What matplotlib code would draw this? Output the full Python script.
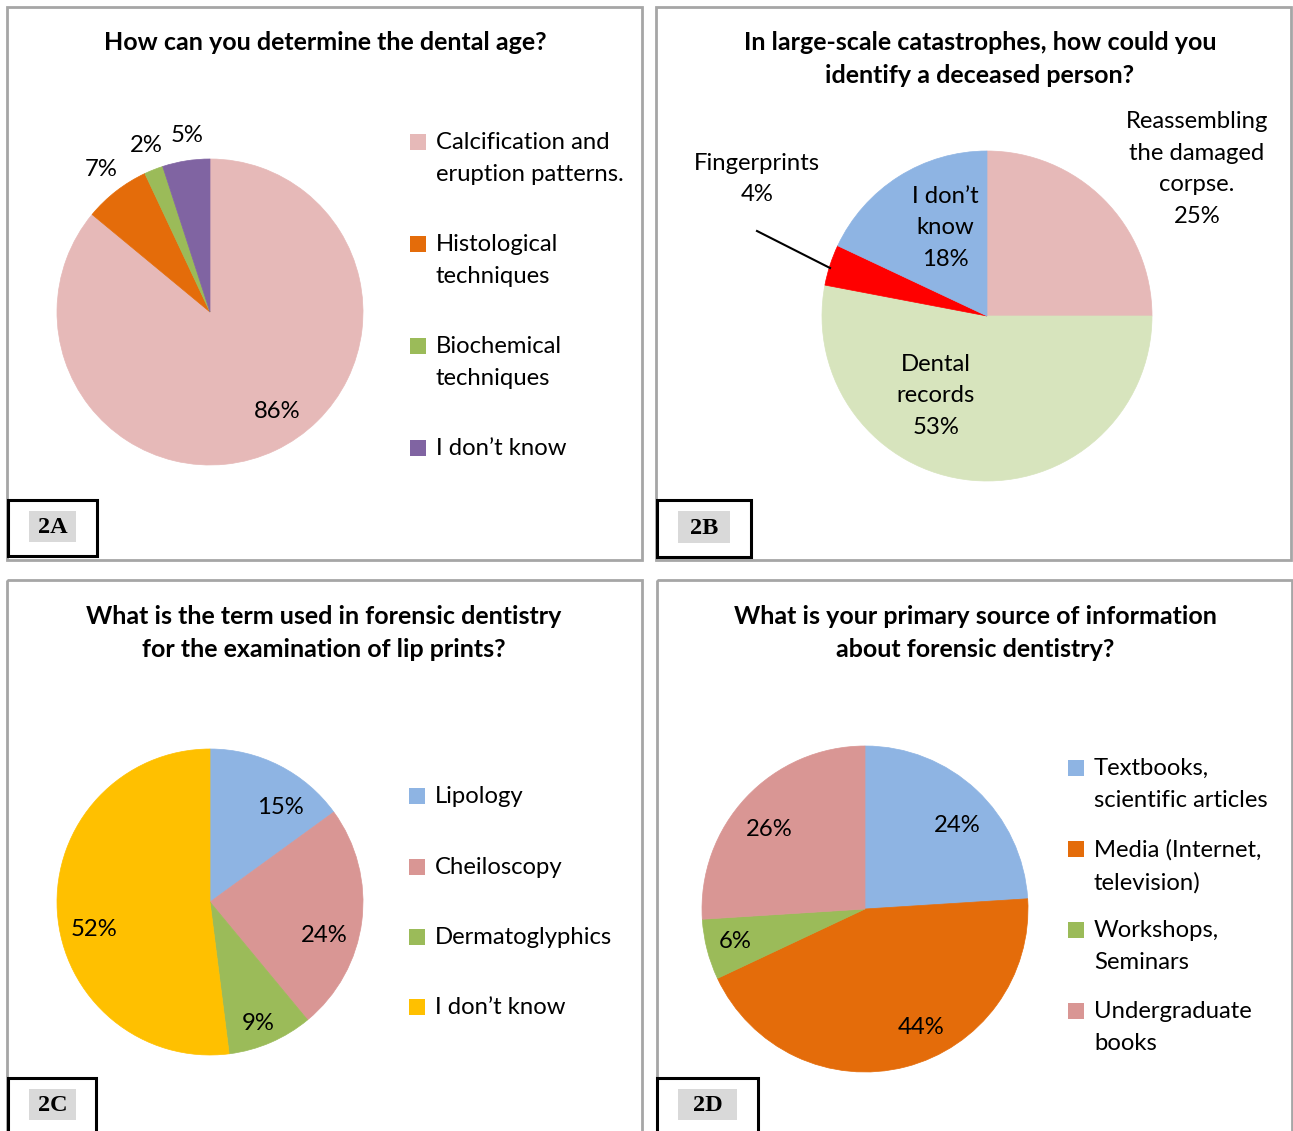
import matplotlib
matplotlib.use("Agg")
import matplotlib.pyplot as plt
from matplotlib.patches import Rectangle
import numpy as np

plt.rcParams['font.family'] = ['Lato', 'DejaVu Sans']

W, H = 1293, 1131

# ---------------- data ----------------
a_title = "How can you determine the dental age?"
a_labels = ["Calcification and\neruption patterns.", "Histological\ntechniques",
            "Biochemical\ntechniques", "I don\u2019t know"]
a_values = [86, 7, 2, 5]
a_colors = ["#E6B9B8", "#E46C0A", "#9BBB59", "#8064A2"]

b_title = "In large-scale catastrophes, how could you\nidentify a deceased person?"
b_labels = ["Reassembling\nthe damaged\ncorpse.", "Dental\nrecords", "Fingerprints", "I don\u2019t\nknow"]
b_values = [25, 53, 4, 18]
b_colors = ["#E6B9B8", "#D7E4BD", "#FF0000", "#8EB4E3"]

c_title = "What is the term used in forensic dentistry\nfor the examination of lip prints?"
c_labels = ["Lipology", "Cheiloscopy", "Dermatoglyphics", "I don\u2019t know"]
c_values = [15, 24, 9, 52]
c_colors = ["#8EB4E3", "#D99694", "#9BBB59", "#FFC000"]

d_title = "What is your primary source of information\nabout forensic dentistry?"
d_labels = ["Textbooks,\nscientific articles", "Media (Internet,\ntelevision)",
            "Workshops,\nSeminars", "Undergraduate\nbooks"]
d_values = [24, 44, 6, 26]
d_colors = ["#8EB4E3", "#E46C0A", "#9BBB59", "#D99694"]

panel_tags = ["2A", "2B", "2C", "2D"]

# ---------------- figure ----------------
fig = plt.figure(figsize=(W / 100, H / 100), dpi=100)
ov = fig.add_axes([0, 0, 1, 1])
ov.set_xlim(0, W)
ov.set_ylim(H, 0)
ov.axis('off')

FS = 17.2
TFS = 18
LS = 1.64

# panel borders
for (x0, y0, x1, y1) in [(7, 7, 642, 560), (656, 7, 1291, 560),
                         (7, 580, 642, 1140), (657, 580, 1292, 1140)]:
    ov.add_patch(Rectangle((x0, y0), x1 - x0, y1 - y0, fill=False,
                           ec="#a6a6a6", lw=2))

# titles
ov.text(325, 43, a_title, ha='center', va='center', fontsize=TFS, fontweight='bold')
ov.text(980, 59, b_title, ha='center', va='center', fontsize=TFS, fontweight='bold', linespacing=1.55)
ov.text(324, 633, c_title, ha='center', va='center', fontsize=TFS, fontweight='bold', linespacing=1.55)
ov.text(975, 633, d_title, ha='center', va='center', fontsize=TFS, fontweight='bold', linespacing=1.55)


def pie_axes(cx, cy, r):
    ax = fig.add_axes([(cx - r) / W, 1 - (cy + r) / H, 2 * r / W, 2 * r / H])
    return ax


def draw_pie(ax, values, colors):
    wedges, _ = ax.pie(values, colors=colors, startangle=90, counterclock=False,
                       radius=1, wedgeprops=dict(lw=0.5))
    for w, c in zip(wedges, colors):
        w.set_edgecolor(c)
    ax.set_xlim(-1, 1)
    ax.set_ylim(-1, 1)
    ax.set_aspect('auto')
    ax.axis('off')
    return wedges


axA = pie_axes(210, 312, 153)
draw_pie(axA, a_values, a_colors)
axB = pie_axes(987, 316, 165)
draw_pie(axB, b_values, b_colors)
axC = pie_axes(210, 902, 153)
draw_pie(axC, c_values, c_colors)
axD = pie_axes(865, 909, 163)
draw_pie(axD, d_values, d_colors)

# top overlay for labels
top = fig.add_axes([0, 0, 1, 1])
top.set_xlim(0, W)
top.set_ylim(H, 0)
top.axis('off')
top.patch.set_alpha(0)

# tag boxes
for tag, (x0, y0, x1, y1), (gx0, gx1, gy0, gy1) in zip(
        panel_tags,
        [(8, 500, 97, 556), (657, 500, 751, 557), (8, 1078, 96, 1140), (657, 1078, 758, 1140)],
        [(29, 76, 511, 542), (678, 730, 511, 543), (29, 76, 1089, 1120), (678, 737, 1089, 1120)]):
    top.add_patch(Rectangle((x0, y0), x1 - x0, y1 - y0, fill=True, fc="white", ec="black", lw=2.2, zorder=3))
    top.add_patch(Rectangle((gx0, gy0), gx1 - gx0, gy1 - gy0, fc="#d9d9d9", ec="none", zorder=4))
    top.text((gx0 + gx1) / 2, (gy0 + gy1) / 2 + 1, tag, ha='center', va='center',
             family='Liberation Serif', fontweight='bold', fontsize=17.5, zorder=5)


def legend(x_sq, x_txt, ys, labels, colors):
    for y, lab, col in zip(ys, labels, colors):
        top.add_patch(Rectangle((x_sq - 8, y - 8), 16, 16, fc=col, ec='none'))
        top.text(x_txt, y - 10, lab, ha='left', va='top', fontsize=FS, linespacing=LS)


# ---- A ----
for v, (x, y) in zip(a_values, [(277, 412), (101, 170), (146, 146), (187, 136)]):
    top.text(x, y, f"{v}%", ha='center', va='center', fontsize=FS)
legend(418, 436, [142, 244, 346, 448], a_labels, a_colors)

# ---- B ----
b_pos = [(1197, 169), (936, 396), (757, 179), (945, 228)]
for v, lab, (x, y) in zip(b_values, b_labels, b_pos):
    top.text(x, y, f"{lab}\n{v}%", ha='center', va='center', fontsize=FS, linespacing=LS)
top.plot([757, 830], [231, 268], color='black', lw=1.5)

# ---- C ----
for v, (x, y) in zip(c_values, [(280, 808), (324, 935), (258, 1024), (94, 929)]):
    top.text(x, y, f"{v}%", ha='center', va='center', fontsize=FS)
legend(417, 435, [796, 867, 937, 1007], c_labels, c_colors)

# ---- D ----
for v, (x, y) in zip(d_values, [(957, 825), (921, 1027), (735, 942), (769, 829)]):
    top.text(x, y, f"{v}%", ha='center', va='center', fontsize=FS)
legend(1076, 1094, [768, 849, 930, 1011], d_labels, d_colors)

fig.savefig("out.png", dpi=100)
